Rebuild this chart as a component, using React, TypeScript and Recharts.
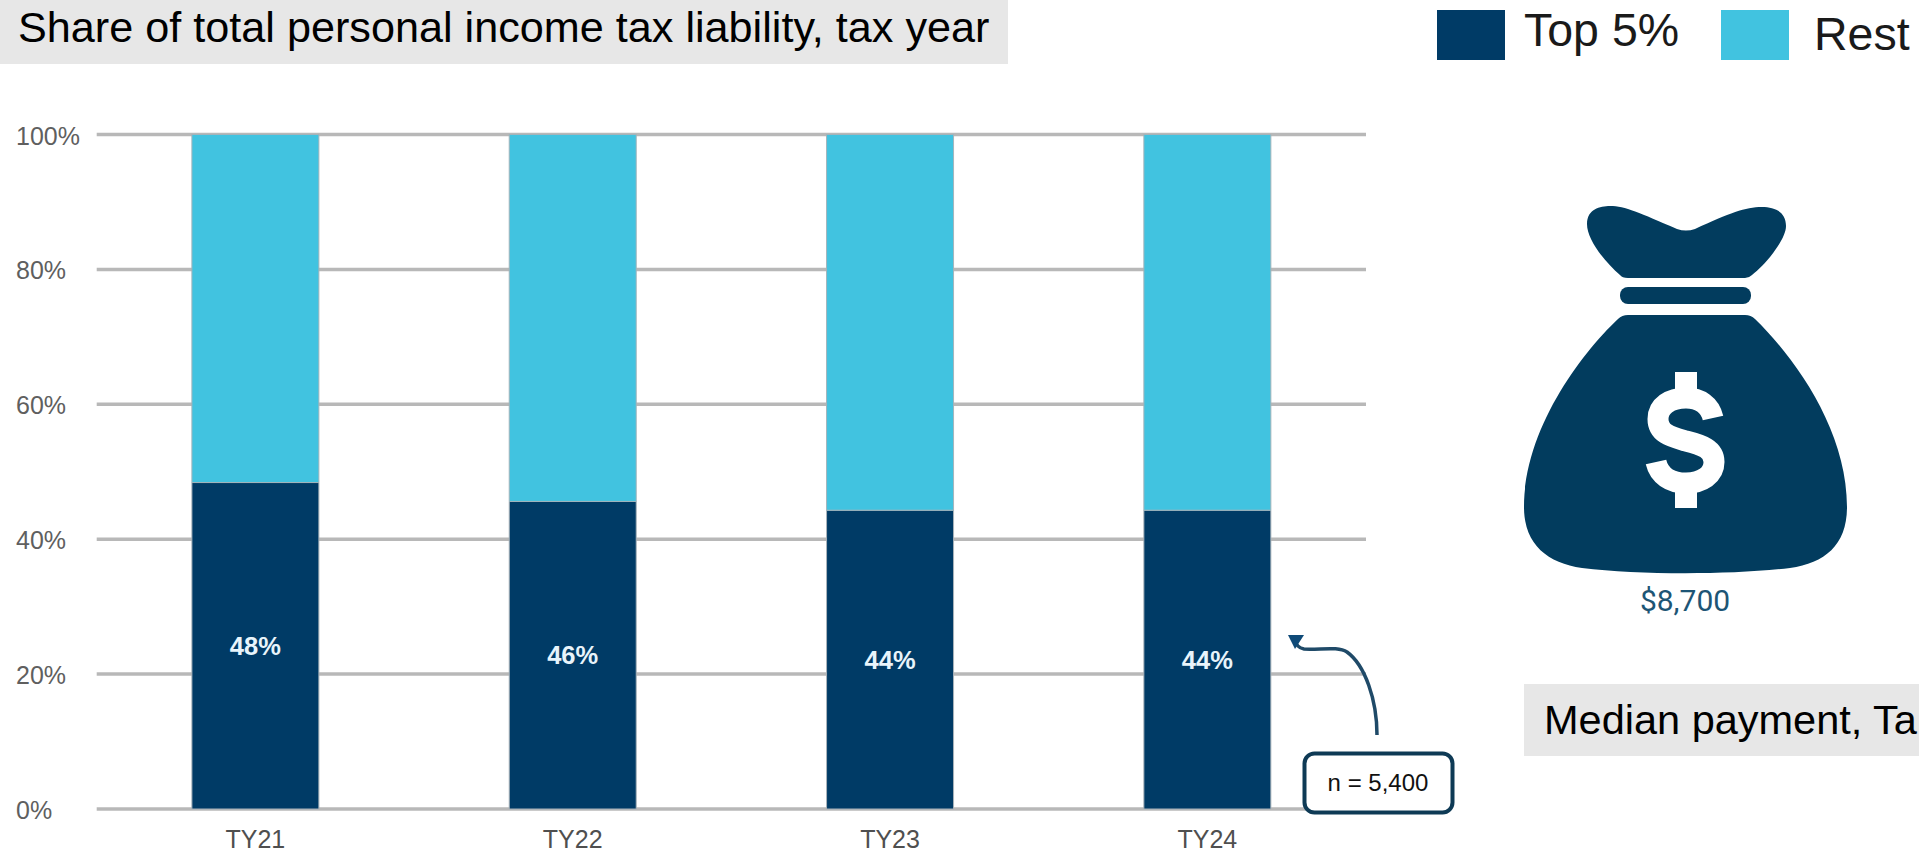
import React from "react";
import { BarChart, Bar, XAxis, YAxis, CartesianGrid, LabelList, Legend } from "recharts";

const categories = ["TY21", "TY22", "TY23", "TY24"];
const top5Share = [48.4, 45.6, 44.3, 44.3];
const restShare = [51.6, 54.4, 55.7, 55.7];
const yTicks = [0, 20, 40, 60, 80, 100];

const chartTitle = "Share of total personal income tax liability, tax year";
const medianValue = "$8,700";
const medianTitle = "Median payment, Ta";
const sampleNote = "n = 5,400";

const DARK = "#003b66";
const LIGHT = "#41c3e0";
const BAG = "#023c5e";
const SANS = "'Liberation Sans', Arial, sans-serif";

const rows = categories.map((name, i) => ({
  name,
  top5: top5Share[i],
  rest: restShare[i],
}));

const YTick = ({ y, payload }: any) => (
  <text x={16} y={y + 10} fontSize={25} fontFamily={SANS} fill="#5f5f5f" textAnchor="start">
    {payload.value}%
  </text>
);

const XTick = ({ x, payload }: any) => (
  <text x={x} y={848} fontSize={25} fontFamily={SANS} fill="#4f4f4f" textAnchor="middle">
    {payload.value}
  </text>
);

const legendSpots: Record<string, { box: number; text: number; base: number }> = {
  top5: { box: 1437, text: 1524, base: 46 },
  rest: { box: 1721, text: 1814, base: 50 },
};

const LegendBox = ({ payload }: any) => (
  <svg width={1919} height={70} style={{ display: "block" }}>
    {(payload ?? []).map((item: any) => {
      const spot = legendSpots[item.dataKey];
      return (
        <g key={item.value}>
          <rect x={spot.box} y={10} width={68} height={50} fill={item.color} />
          <text x={spot.text} y={spot.base} fontSize={46.5} fontFamily={SANS} fill="#1a1a1a">
            {item.value}
          </text>
        </g>
      );
    })}
  </svg>
);

const MoneyBag = () => (
  <g>
    <path
      fill={BAG}
      d="M1587 224 C1587 209 1600 206 1610 206 C1625 206 1640 213 1677 229 Q1686 232 1695 229 C1730 213 1745 207 1762 207 C1775 207 1786 212 1786 226 C1786 240 1765 265 1752 275 Q1749 278 1745 278 L1628 278 Q1622 278 1620 275 C1605 262 1587 240 1587 224 Z"
    />
    <rect x={1620} y={287} width={131} height={17} rx={8} fill={BAG} />
    <path
      fill={BAG}
      d="M1628 315 L1745 315 Q1751 315 1755 319 C1795 358 1847 430 1847 507 C1847 545 1825 563 1790 568 C1730 575 1640 575 1582 568 C1548 563 1524 545 1524 507 C1524 430 1580 355 1618 319 Q1622 315 1628 315 Z"
    />
    <path
      fill="none"
      stroke="#ffffff"
      strokeWidth={21}
      d="M1713 418 C1710 405 1700 398 1686 398 C1670 398 1658 406 1658 419 C1658 434 1672 437 1686 441 C1702 445 1714 449 1714 462 C1714 475 1702 483 1686 483 C1670 483 1659 475 1656 462"
    />
    <rect x={1675} y={372} width={22} height={24} fill="#ffffff" />
    <rect x={1675} y={485} width={22} height={23} fill="#ffffff" />
  </g>
);

const Annotations = () => (
  <svg
    width={1919}
    height={854}
    style={{ position: "absolute", left: 0, top: 0, pointerEvents: "none" }}
  >
    <rect x={0} y={0} width={1008} height={64} fill="#e7e7e7" />
    <text x={18} y={41.5} fontSize={43.2} fontFamily={SANS} fill="#000000">
      {chartTitle}
    </text>

    <MoneyBag />
    <text x={1685} y={611} fontSize={30} fontFamily="Roboto" fill="#1d5575" textAnchor="middle">
      {medianValue}
    </text>

    <rect x={1524} y={684} width={395} height={72} fill="#e7e7e7" />
    <text x={1544} y={733.5} fontSize={41.5} fontFamily={SANS} fill="#000000">
      {medianTitle}
    </text>

    <path
      d="M1377 735 C1377 700 1365 665 1347 652 C1338 646 1320 650 1304 649 C1298 648 1296 645 1295 640"
      fill="none"
      stroke="#1f4a68"
      strokeWidth={3.5}
    />
    <path d="M1288 635 L1304 635 L1295 649 Z" fill="#0f4a78" />

    <rect x={1304.5} y={753.5} width={148} height={59} rx={10} fill="#ffffff" stroke="#0e3a55" strokeWidth={4} />
    <text x={1378} y={791} fontSize={24} fontFamily={SANS} fill="#111111" textAnchor="middle">
      {sampleNote}
    </text>
  </svg>
);

export default function App() {
  return (
    <div style={{ position: "absolute", left: 0, top: 0, width: 1919, height: 854, overflow: "hidden", background: "#fff" }}>
      <BarChart
        width={1919}
        height={854}
        data={rows}
        margin={{ top: 134.5, right: 553, bottom: 0, left: 6.7 }}
        barCategoryGap="30%"
      >
        <CartesianGrid vertical={false} stroke="#b8b8b8" strokeWidth={3.5} />
        <XAxis dataKey="name" axisLine={false} tickLine={false} tick={<XTick />} height={45} />
        <YAxis
          domain={[0, 100]}
          ticks={yTicks}
          axisLine={false}
          tickLine={false}
          tick={<YTick />}
          width={90}
        />
        <Legend
          content={<LegendBox />}
          layout="horizontal"
          align="center"
          verticalAlign="middle"
          wrapperStyle={{ position: "absolute", left: 0, top: 0, width: 1919, height: 70 }}
        />
        <Bar dataKey="top5" name="Top 5%" stackId="share" fill={DARK} stroke="#a9b3ba" strokeWidth={1} isAnimationActive={false}>
          <LabelList
            dataKey="top5"
            position="center"
            formatter={(v: any) => `${Math.round(v)}%`}
            fill="#e8f4fb"
            fontSize={25.5}
            fontWeight="bold"
            fontFamily={SANS}
          />
        </Bar>
        <Bar dataKey="rest" name="Rest" stackId="share" fill={LIGHT} stroke="#a3b4bb" strokeWidth={1} isAnimationActive={false} />
      </BarChart>
      <Annotations />
    </div>
  );
}
